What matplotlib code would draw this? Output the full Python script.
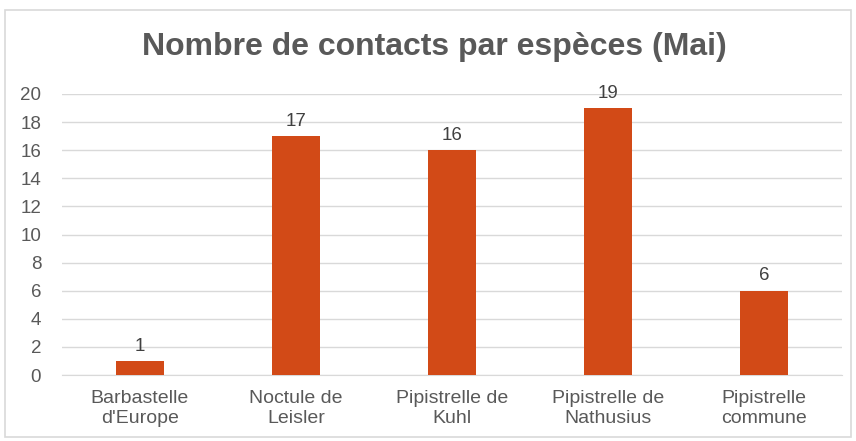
import matplotlib

matplotlib.use("Agg")
import matplotlib.pyplot as plt
from matplotlib.patches import Rectangle

plt.rcParams["font.family"] = ["Liberation Sans", "DejaVu Sans"]

TITLE = "Nombre de contacts par espèces (Mai)"
categories = [
    "Barbastelle\nd'Europe",
    "Noctule de\nLeisler",
    "Pipistrelle de\nKuhl",
    "Pipistrelle de\nNathusius",
    "Pipistrelle\ncommune",
]
contacts = [1, 17, 16, 19, 6]
y_ticks = list(range(0, 21, 2))

TEXT_COLOR = "#595959"
BAR_COLOR = "#D24A17"
GRID_COLOR = "#D9D9D9"

fig = plt.figure(figsize=(8.56, 4.41), dpi=100)
fig.patches.append(
    Rectangle((5 / 856, 4 / 441), 846 / 856, 427 / 441, transform=fig.transFigure,
              fill=False, edgecolor="#D9D9D9", linewidth=1.2)
)

ax = fig.add_axes([62 / 856, 1 - 375 / 441, (842 - 62) / 856, (375 - 94) / 441])
x = list(range(len(categories)))
bars = ax.bar(x, contacts, width=0.31, color=BAR_COLOR, zorder=3)
for rect, value in zip(bars, contacts):
    ax.text(rect.get_x() + rect.get_width() / 2, value + 0.45, str(value),
            ha="center", va="bottom", fontsize=13.5, color="#404040")

ax.set_xlim(-0.5, len(categories) - 0.5)
ax.set_ylim(0, 20)
ax.set_yticks(y_ticks)
ax.set_xticks(x)
ax.set_xticklabels(categories, fontsize=14, color=TEXT_COLOR, linespacing=1.2)
ax.tick_params(axis="y", labelsize=13.5, labelcolor=TEXT_COLOR, length=0, pad=15)
ax.tick_params(axis="x", length=0, pad=11)
ax.grid(axis="y", color=GRID_COLOR, linewidth=1, zorder=0)
for side in ["top", "right", "left"]:
    ax.spines[side].set_visible(False)
ax.spines["bottom"].set_color(GRID_COLOR)

fig.text(434 / 856, 1 - 47 / 441, TITLE, ha="center", va="center",
         fontsize=23, fontweight="bold", color=TEXT_COLOR)

fig.savefig("out.png", dpi=100)
